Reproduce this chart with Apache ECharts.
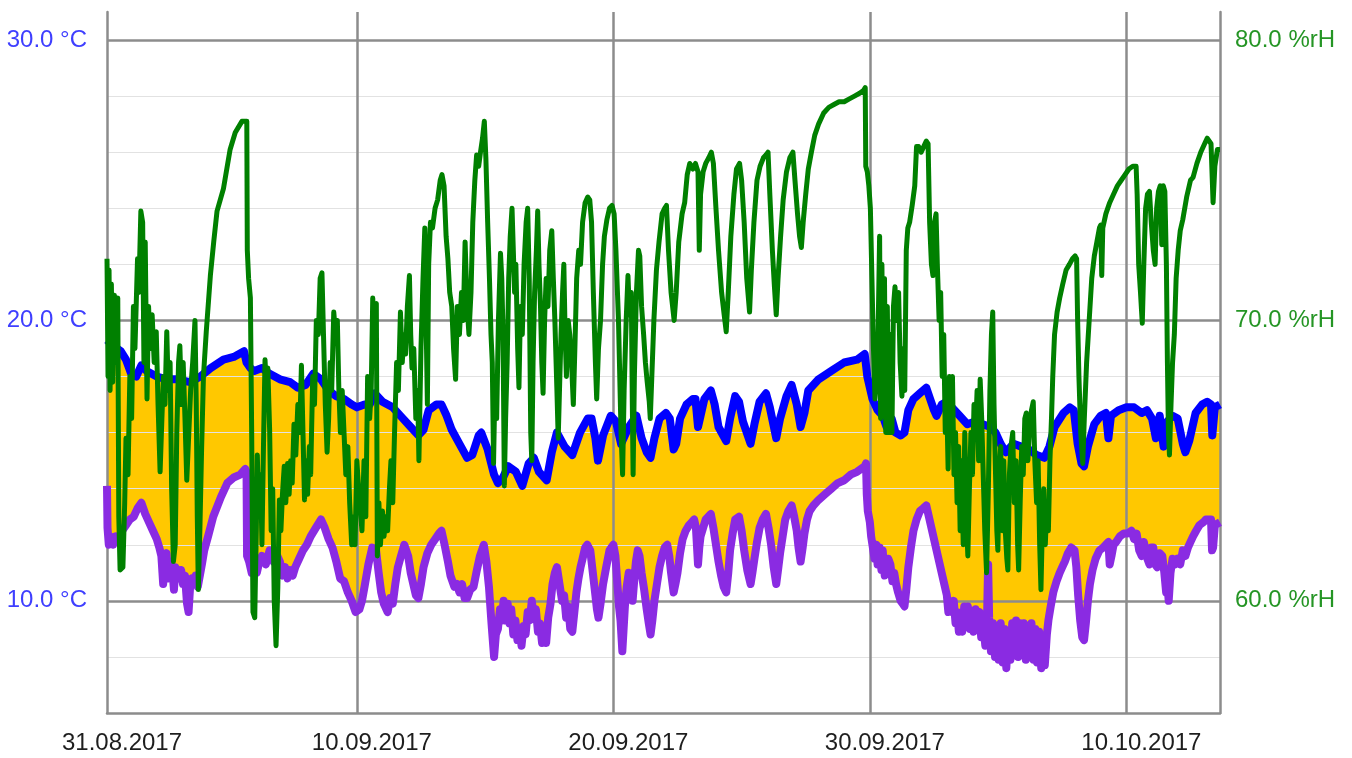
<!DOCTYPE html>
<html>
<head>
<meta charset="utf-8">
<script src="https://cdn.jsdelivr.net/npm/echarts@6/dist/echarts.min.js"></script>
<style>
html,body{margin:0;padding:0;background:#ffffff;}
#chart{width:1352px;height:758px;}
</style>
</head>
<body>
<div id="chart"></div>
<script>
// x values are days counted from 31.08.2017 00:00
const startDate = [2017, 7, 31];
const xRange = [0.26, 43.65];
const tempRange = [6, 31];
const humRange = [56, 81];
const tempTicks = [10, 20, 30];
const humTicks = [60, 70, 80];

// upper temperature (blue), degC
const tempMax = [
[0.26,19.3],[0.5,19.1],[0.8,18.9],[1.0,18.6],[1.2,18.1],[1.4,18.0],[1.6,18.4],[1.8,18.2],[2.2,18.0],[2.6,17.9],[3.0,17.9],[3.5,17.8],[3.9,18.0],[4.3,18.3],[4.8,18.6],[5.2,18.7],[5.6,18.9],[5.7,18.5],[5.85,18.3],[6.0,18.2],[6.3,18.3],[6.6,18.1],[7.0,17.9],[7.4,17.8],[7.7,17.6],[8.0,17.7],[8.3,18.1],[8.6,17.9],[8.9,17.5],[9.2,17.3],[9.5,17.2],[9.8,17.0],[10.0,16.9],
[10.3,17.0],[10.5,17.0],[10.7,17.4],[11.0,17.1],[11.4,16.9],[11.8,16.5],[12.1,16.2],[12.4,15.9],[12.6,16.1],[12.8,16.8],[13.1,17.0],[13.3,17.0],[13.5,16.6],[13.7,16.1],[14.0,15.6],[14.3,15.1],[14.5,15.2],[14.75,15.9],[14.85,16.0],[15.1,15.4],[15.35,14.5],[15.5,14.2],[15.7,14.4],[15.9,14.8],[16.2,14.6],[16.45,14.1],[16.7,14.9],[16.9,15.1],[17.1,14.6],[17.4,14.3],[17.6,15.3],[17.8,16.0],[18.1,15.5],[18.4,15.2],[18.7,16.0],[19.0,16.5],[19.15,16.5],[19.3,15.8],[19.4,15.0],[19.6,15.9],[19.9,16.6],[20.1,16.4],
[20.3,15.6],[20.6,16.2],[20.9,16.6],[21.1,15.8],[21.3,15.3],[21.45,15.1],[21.6,15.8],[21.8,16.5],[22.05,16.7],[22.2,16.5],[22.35,15.4],[22.45,15.6],[22.6,16.5],[22.85,17.0],[23.1,17.2],[23.2,17.2],[23.3,16.2],[23.4,16.6],[23.55,17.2],[23.8,17.5],[23.95,17.0],[24.1,16.2],[24.4,15.7],[24.55,16.5],[24.75,17.3],[24.9,17.1],[25.05,16.4],[25.35,15.6],[25.5,16.3],[25.7,17.1],[25.95,17.4],[26.1,16.9],[26.35,15.8],[26.5,16.5],[26.75,17.3],[26.95,17.7],[27.15,17.0],[27.3,16.2],[27.45,16.7],[27.6,17.5],[28.0,17.9],[28.5,18.2],[29.0,18.5],[29.5,18.6],[29.8,18.8],[29.9,18.0],
[30.1,17.2],[30.3,16.8],[30.5,16.6],[30.65,16.2],[30.85,16.5],[31.0,16.0],[31.2,15.9],[31.35,16.0],[31.5,16.8],[31.7,17.2],[31.95,17.4],[32.2,17.6],[32.35,17.2],[32.5,16.8],[32.6,16.6],[32.8,17.0],[33.0,17.1],[33.2,16.9],[33.5,16.6],[33.8,16.3],[34.1,16.4],[34.4,16.3],[34.7,16.2],[34.9,16.0],[35.1,15.6],[35.3,15.3],[35.6,15.6],[35.9,15.5],[36.2,15.4],[36.5,15.2],[36.8,15.1],[37.0,15.5],[37.2,16.2],[37.55,16.7],[37.8,16.9],[37.95,16.8],[38.1,15.6],[38.25,14.9],[38.35,14.8],[38.5,15.5],[38.75,16.3],[39.0,16.6],[39.2,16.7],[39.3,15.8],[39.4,16.6],[39.7,16.8],[40.0,16.9],[40.3,16.9],[40.6,16.7],[40.8,16.8],[41.0,16.5],[41.15,15.8],[41.3,16.6],[41.45,15.5],[41.6,16.4],[41.8,16.6],[42.0,16.5],[42.2,15.6],[42.3,15.3],[42.45,15.7],[42.7,16.7],[42.95,17.0],[43.15,17.1],[43.3,17.0],[43.35,15.9],[43.45,16.9],[43.65,17.0]
];

// lower temperature (violet), degC
const tempMin = [
[0.26,14.1],[0.28,12.6],[0.33,12.0],[0.4,12.3],[0.5,12.0],[0.6,12.3],[0.7,12.2],[0.85,12.5],[1.0,12.7],[1.15,12.9],[1.3,13.0],[1.45,13.3],[1.6,13.5],[1.75,13.1],[1.9,12.8],[2.05,12.5],[2.2,12.2],[2.3,11.9],[2.38,11.6],[2.45,10.6],[2.5,11.5],[2.58,11.7],[2.65,10.8],[2.72,11.4],[2.8,11.2],[2.87,10.4],[2.93,11.2],[3.0,11.2],[3.08,10.8],[3.15,11.1],[3.22,10.6],[3.3,10.9],[3.38,9.9],[3.44,9.6],[3.5,10.5],[3.58,10.8],[3.65,10.6],[3.72,10.9],[3.8,10.5],[3.88,10.9],[3.96,11.3],[4.05,11.8],[4.2,12.3],[4.4,13.0],[4.7,13.7],[4.95,14.2],[5.2,14.4],[5.45,14.5],[5.65,14.7],[5.7,14.6],[5.72,11.6],[5.8,11.4],[5.9,11.0],[6.0,11.3],[6.1,11.0],[6.2,11.4],[6.3,11.6],[6.45,11.3],[6.6,11.8],[6.75,11.4],[6.9,11.6],[7.0,11.4],[7.1,10.9],[7.2,11.2],[7.3,10.8],[7.4,11.1],[7.5,10.9],[7.6,11.2],[7.75,11.5],[7.9,11.8],[8.05,12.0],[8.2,12.3],[8.4,12.6],[8.6,12.9],[8.75,12.6],[8.9,12.2],[9.05,11.9],[9.2,11.4],[9.35,10.8],[9.5,10.7],[9.65,10.3],[9.8,10.0],[9.95,9.6],[10.1,9.7],
[10.2,10.0],[10.3,10.5],[10.45,11.3],[10.6,11.9],[10.75,11.8],[10.85,11.0],[10.95,10.3],[11.05,9.9],[11.2,9.6],[11.3,10.1],[11.4,9.9],[11.5,10.6],[11.6,11.2],[11.72,11.6],[11.85,12.0],[12.0,11.6],[12.1,11.0],[12.2,10.6],[12.3,10.2],[12.4,10.1],[12.5,10.6],[12.6,11.2],[12.75,11.7],[12.9,12.0],[13.05,12.2],[13.2,12.4],[13.3,12.5],[13.42,12.0],[13.55,11.4],[13.65,10.9],[13.8,10.5],[13.9,10.6],[14.0,10.3],[14.1,10.6],[14.2,10.1],[14.3,10.1],[14.42,10.4],[14.55,10.5],[14.68,11.1],[14.8,11.6],[14.95,12.0],[15.05,11.4],[15.15,10.5],[15.25,9.2],[15.3,8.6],[15.35,8.0],[15.42,8.8],[15.5,9.0],[15.58,9.7],[15.65,9.3],[15.72,10.0],[15.8,9.3],[15.88,9.9],[15.95,9.2],[16.02,9.7],[16.1,8.8],[16.18,9.3],[16.26,8.6],[16.34,9.0],[16.42,8.4],[16.5,9.1],[16.58,8.8],[16.66,9.6],[16.74,9.3],[16.82,10.0],[16.9,9.4],[16.98,9.7],[17.06,8.9],[17.14,9.2],[17.22,8.5],[17.3,8.8],[17.38,8.5],[17.46,9.4],[17.55,9.9],[17.63,10.6],[17.72,11.0],[17.8,11.2],[17.9,10.6],[18.0,10.0],[18.08,10.2],[18.16,9.4],[18.24,9.8],[18.32,9.0],[18.4,8.9],[18.48,9.6],[18.56,10.3],[18.64,10.8],[18.72,11.2],[18.8,11.5],[18.9,11.9],[18.98,12.0],[19.1,11.8],[19.2,11.0],[19.3,10.2],[19.36,9.7],[19.42,9.4],[19.5,9.9],[19.6,10.6],[19.72,11.2],[19.85,11.8],[20.0,12.0],
[20.08,11.6],[20.15,10.7],[20.22,9.8],[20.28,9.3],[20.35,8.2],[20.4,9.0],[20.45,9.8],[20.52,10.5],[20.6,11.0],[20.68,10.6],[20.75,10.0],[20.82,10.8],[20.88,11.4],[20.95,11.8],[21.02,11.6],[21.1,11.0],[21.2,10.4],[21.3,9.7],[21.38,9.2],[21.45,8.8],[21.52,9.3],[21.6,10.0],[21.7,10.6],[21.8,11.2],[21.9,11.6],[22.0,11.9],[22.1,12.0],[22.18,11.6],[22.25,11.0],[22.35,10.3],[22.42,10.6],[22.5,11.0],[22.6,11.7],[22.7,12.2],[22.82,12.5],[22.95,12.7],[23.05,12.8],[23.15,12.9],[23.22,12.6],[23.3,11.3],[23.35,11.9],[23.4,12.3],[23.5,12.6],[23.6,12.9],[23.7,13.0],[23.8,13.1],[23.9,12.6],[24.0,12.0],[24.1,11.4],[24.2,10.9],[24.3,10.5],[24.4,10.3],[24.48,11.0],[24.55,11.8],[24.65,12.4],[24.75,12.9],[24.9,13.0],[25.0,12.5],[25.1,11.8],[25.22,11.1],[25.35,10.6],[25.42,11.0],[25.5,11.5],[25.6,12.1],[25.7,12.6],[25.82,12.9],[25.95,13.1],[26.05,12.6],[26.15,12.0],[26.25,11.2],[26.35,10.6],[26.42,11.1],[26.5,11.7],[26.6,12.3],[26.7,12.9],[26.82,13.2],[26.95,13.4],[27.05,13.0],[27.15,12.5],[27.22,11.9],[27.3,11.4],[27.38,11.9],[27.45,12.4],[27.55,12.9],[27.65,13.2],[27.8,13.4],[28.0,13.6],[28.25,13.8],[28.5,14.0],[28.75,14.2],[29.0,14.3],[29.25,14.5],[29.5,14.6],[29.65,14.7],[29.8,14.8],[29.85,14.9],[29.88,13.8],[29.92,13.2],
[30.0,12.8],[30.05,12.3],[30.1,12.0],[30.18,11.5],[30.25,12.0],[30.3,11.3],[30.38,11.9],[30.45,11.1],[30.5,11.8],[30.58,10.9],[30.65,11.0],[30.72,11.5],[30.8,11.3],[30.88,10.7],[30.95,11.0],[31.02,10.6],[31.1,10.3],[31.2,10.0],[31.28,9.9],[31.35,9.8],[31.42,10.4],[31.5,11.2],[31.6,11.9],[31.7,12.5],[31.82,12.9],[31.95,13.2],[32.08,13.3],[32.2,13.4],[32.3,13.0],[32.4,12.6],[32.5,12.2],[32.6,11.8],[32.7,11.4],[32.8,11.0],[32.9,10.6],[33.0,10.2],[33.06,9.6],[33.12,10.0],[33.2,9.6],[33.27,10.0],[33.34,9.2],[33.4,9.6],[33.47,8.9],[33.54,9.4],[33.6,8.9],[33.68,9.8],[33.75,9.2],[33.82,9.8],[33.9,9.0],[33.97,9.6],[34.04,8.9],[34.12,9.7],[34.2,9.1],[34.27,9.6],[34.34,8.7],[34.42,9.2],[34.5,8.4],[34.56,9.0],[34.61,11.3],[34.65,9.4],[34.72,8.2],[34.8,9.2],[34.88,8.0],[34.95,9.1],[35.02,7.9],[35.1,9.2],[35.18,7.8],[35.25,9.0],[35.32,7.6],[35.4,8.9],[35.48,7.9],[35.55,9.2],[35.62,8.1],[35.7,9.3],[35.78,8.0],[35.85,9.2],[35.92,8.1],[36.0,9.2],[36.08,7.9],[36.15,9.1],[36.22,8.0],[36.3,9.2],[36.38,7.9],[36.45,9.0],[36.52,7.8],[36.6,8.9],[36.68,7.6],[36.75,8.6],[36.82,7.7],[36.9,8.8],[36.96,9.3],[37.05,9.8],[37.15,10.3],[37.28,10.7],[37.4,11.0],[37.5,11.2],[37.6,11.4],[37.72,11.7],[37.85,11.9],[37.98,11.8],[38.05,11.2],[38.12,10.2],[38.2,9.3],[38.28,8.7],[38.35,8.6],[38.42,9.2],[38.5,10.0],[38.58,10.6],[38.68,11.1],[38.8,11.5],[38.95,11.8],[39.1,11.9],[39.2,12.0],[39.3,12.1],[39.35,11.3],[39.42,11.6],[39.5,12.0],[39.6,12.1],[39.75,12.3],[39.9,12.4],[40.05,12.4],[40.2,12.5],[40.3,12.2],[40.4,12.4],[40.5,11.8],[40.6,11.6],[40.68,12.1],[40.75,12.1],[40.82,11.5],[40.9,11.3],[40.97,11.9],[41.05,11.9],[41.12,11.3],[41.2,11.2],[41.3,11.7],[41.4,11.6],[41.48,11.0],[41.55,10.3],[41.6,10.6],[41.65,10.0],[41.72,11.0],[41.8,11.5],[41.9,11.3],[42.0,11.5],[42.1,11.3],[42.2,11.8],[42.3,11.6],[42.4,11.9],[42.5,12.1],[42.6,12.3],[42.72,12.5],[42.85,12.7],[43.0,12.8],[43.1,12.9],[43.3,12.9],[43.34,11.8],[43.38,11.9],[43.45,12.7],[43.65,12.8]
];

// relative humidity (green), %rH
const humidity = [
[0.26,72.2],[0.3,68.0],[0.34,71.8],[0.38,67.5],[0.43,71.3],[0.48,67.8],[0.55,70.9],[0.62,68.5],[0.68,70.8],[0.72,63.0],[0.77,61.1],[0.88,61.2],[0.95,63.5],[1.0,65.8],[1.08,64.5],[1.15,68.0],[1.22,66.5],[1.29,70.5],[1.35,69.0],[1.45,72.2],[1.5,71.0],[1.58,73.9],[1.65,73.5],[1.7,68.5],[1.75,72.8],[1.82,67.2],[1.88,70.5],[1.95,69.0],[2.02,70.2],[2.1,68.5],[2.18,69.6],[2.25,67.0],[2.33,64.6],[2.4,66.5],[2.46,68.0],[2.52,67.0],[2.59,69.6],[2.65,67.5],[2.72,68.5],[2.78,64.0],[2.85,61.4],[2.92,62.0],[2.98,66.0],[3.05,68.5],[3.1,69.1],[3.17,67.0],[3.23,68.5],[3.3,66.5],[3.37,64.3],[3.45,66.0],[3.52,67.5],[3.6,68.5],[3.69,70.0],[3.74,67.0],[3.78,63.0],[3.82,60.4],[3.88,62.5],[3.95,65.5],[4.02,68.0],[4.13,69.6],[4.29,71.6],[4.42,72.8],[4.55,73.9],[4.8,74.7],[5.06,76.1],[5.26,76.7],[5.52,77.1],[5.71,77.1],
[5.73,72.5],[5.78,71.5],[5.85,70.8],[5.9,66.0],[5.95,59.6],[6.02,59.4],[6.08,62.5],[6.12,65.2],[6.18,63.0],[6.25,64.5],[6.3,62.0],[6.36,65.5],[6.42,68.6],[6.48,67.5],[6.53,68.3],[6.6,66.1],[6.66,62.5],[6.72,64.0],[6.78,60.0],[6.85,58.4],[6.92,60.5],[6.98,63.6],[7.04,62.5],[7.1,63.8],[7.17,64.8],[7.23,63.5],[7.3,64.9],[7.36,63.8],[7.42,65.0],[7.48,64.2],[7.55,66.3],[7.62,65.2],[7.7,67.0],[7.77,66.0],[7.84,68.4],[7.9,66.0],[7.96,63.6],[8.02,65.0],[8.08,63.8],[8.15,65.5],[8.2,64.5],[8.28,68.0],[8.35,67.0],[8.42,70.0],[8.5,69.5],[8.57,71.5],[8.64,71.7],[8.7,69.5],[8.77,67.0],[8.84,65.3],[8.9,66.5],[8.96,68.5],[9.02,67.5],[9.1,70.3],[9.17,69.5],[9.24,70.0],[9.3,67.5],[9.36,66.0],[9.43,67.5],[9.5,66.0],[9.57,64.5],[9.65,65.5],[9.72,63.5],[9.8,62.0],[9.87,63.0],[9.93,62.0],[10.0,65.0],[10.07,64.0],
[10.12,64.0],[10.2,62.5],[10.28,65.0],[10.35,63.0],[10.42,68.0],[10.5,66.5],[10.56,67.5],[10.62,70.8],[10.7,69.0],[10.76,70.6],[10.8,61.6],[10.86,63.5],[10.92,62.0],[11.0,63.2],[11.06,62.3],[11.13,63.0],[11.2,62.5],[11.27,64.0],[11.33,65.0],[11.4,63.5],[11.47,66.0],[11.55,68.5],[11.62,67.5],[11.7,70.3],[11.77,68.5],[11.84,69.5],[11.9,68.8],[11.97,70.5],[12.05,71.6],[12.1,69.5],[12.15,68.3],[12.22,69.0],[12.3,66.5],[12.37,67.5],[12.42,65.0],[12.5,69.0],[12.58,71.5],[12.65,73.3],[12.7,70.0],[12.75,67.0],[12.8,72.0],[12.87,73.5],[12.95,73.3],[13.05,74.0],[13.15,74.3],[13.25,75.0],[13.32,75.2],[13.4,74.8],[13.48,73.0],[13.55,72.2],[13.62,71.0],[13.7,70.5],[13.77,69.0],[13.85,67.9],[13.92,70.5],[14.0,69.5],[14.08,71.0],[14.15,70.0],[14.22,72.8],[14.3,70.5],[14.37,69.5],[14.45,71.0],[14.52,73.5],[14.6,75.0],[14.67,75.9],[14.75,75.5],[14.82,76.0],[14.9,76.5],[14.97,77.1],[15.03,75.8],[15.1,73.5],[15.17,71.5],[15.23,69.5],[15.28,68.5],[15.33,64.9],[15.38,67.5],[15.45,66.5],[15.52,70.0],[15.6,72.4],[15.65,71.5],[15.7,69.5],[15.75,64.1],[15.8,66.5],[15.86,68.5],[15.92,71.5],[15.98,73.0],[16.05,74.0],[16.1,72.5],[16.15,71.0],[16.2,72.0],[16.27,69.0],[16.32,67.6],[16.38,70.5],[16.45,69.5],[16.52,72.0],[16.6,73.5],[16.66,74.0],[16.72,71.5],[16.78,66.0],[16.82,65.0],[16.87,68.5],[16.93,71.0],[17.0,72.5],[17.05,73.9],[17.1,72.0],[17.16,70.5],[17.21,68.5],[17.26,67.4],[17.32,70.0],[17.38,71.5],[17.45,70.5],[17.52,72.5],[17.6,73.2],[17.66,71.5],[17.72,70.0],[17.8,67.5],[17.85,65.8],[17.9,67.5],[17.96,69.5],[18.02,71.0],[18.07,72.0],[18.12,69.5],[18.17,68.0],[18.24,70.0],[18.3,69.5],[18.37,68.5],[18.44,67.0],[18.5,69.0],[18.57,71.5],[18.65,72.5],[18.72,72.0],[18.8,73.5],[18.9,74.2],[19.0,74.4],[19.08,74.3],[19.15,73.5],[19.22,71.0],[19.3,68.5],[19.35,67.2],[19.42,69.0],[19.5,70.0],[19.58,72.0],[19.65,73.0],[19.75,73.6],[19.85,74.0],[19.95,74.1],[20.03,73.8],[20.1,72.5],[20.2,70.0],[20.3,66.0],
[20.36,64.5],[20.42,67.5],[20.5,70.0],[20.57,71.6],[20.63,70.2],[20.7,71.0],[20.74,67.0],[20.77,64.5],[20.82,68.0],[20.9,71.0],[20.98,72.5],[21.03,72.3],[21.1,70.5],[21.18,69.5],[21.25,68.5],[21.32,67.8],[21.4,67.1],[21.44,66.5],[21.5,68.0],[21.58,70.0],[21.68,71.8],[21.78,72.8],[21.9,73.8],[22.0,74.0],[22.07,74.1],[22.15,72.5],[22.25,71.0],[22.37,70.0],[22.45,71.0],[22.55,72.8],[22.68,73.8],[22.78,74.2],[22.88,75.2],[22.98,75.6],[23.1,75.4],[23.2,75.6],[23.3,75.3],[23.35,72.5],[23.4,74.5],[23.5,75.3],[23.6,75.6],[23.72,75.8],[23.82,76.0],[23.9,75.6],[24.0,74.0],[24.1,72.5],[24.22,71.0],[24.32,70.2],[24.4,69.6],[24.48,71.0],[24.58,73.0],[24.7,74.5],[24.8,75.4],[24.92,75.6],[25.0,75.0],[25.1,73.5],[25.2,71.5],[25.31,70.3],[25.38,71.8],[25.48,73.5],[25.6,75.0],[25.72,75.5],[25.85,75.8],[25.95,75.9],[26.03,76.0],[26.1,74.5],[26.2,72.5],[26.28,71.2],[26.35,70.2],[26.42,71.5],[26.52,73.0],[26.62,74.3],[26.75,75.3],[26.88,75.8],[27.0,76.0],[27.08,75.0],[27.18,73.8],[27.26,73.0],[27.33,72.6],[27.4,73.5],[27.5,74.5],[27.6,75.4],[27.72,76.0],[27.85,76.6],[28.0,77.0],[28.2,77.4],[28.4,77.6],[28.6,77.7],[28.8,77.8],[29.0,77.8],[29.2,77.9],[29.4,78.0],[29.6,78.1],[29.75,78.2],[29.82,78.3],[29.84,75.5],[29.9,75.3],[29.96,74.8],[30.02,74.0],[30.08,71.5],[30.14,69.0],[30.2,67.2],[30.26,67.8],[30.32,69.5],
[30.38,73.0],[30.42,66.5],[30.47,72.0],[30.52,67.0],[30.57,71.5],[30.62,66.0],[30.68,70.5],[30.74,66.0],[30.8,69.5],[30.86,66.0],[30.92,70.5],[30.98,71.2],[31.05,70.0],[31.12,71.0],[31.18,68.5],[31.25,67.3],[31.3,69.0],[31.36,67.5],[31.42,72.5],[31.48,73.3],[31.55,73.5],[31.65,74.1],[31.75,74.8],[31.82,76.2],[31.9,76.2],[32.0,76.0],[32.1,76.2],[32.2,76.4],[32.27,76.3],[32.33,73.5],[32.4,72.0],[32.46,71.6],[32.52,73.5],[32.58,73.8],[32.63,72.0],[32.7,70.0],[32.76,71.0],[32.82,68.0],[32.88,69.5],[32.94,66.0],[33.0,67.0],[33.05,64.7],[33.1,68.0],[33.16,66.5],[33.22,68.0],[33.28,64.5],[33.34,66.0],[33.4,63.5],[33.46,65.5],[33.52,62.5],[33.58,65.0],[33.64,62.0],[33.7,66.0],[33.76,63.0],[33.82,61.6],[33.88,64.0],[33.94,66.0],[34.0,64.5],[34.06,67.0],[34.12,66.0],[34.18,67.5],[34.24,65.0],[34.3,67.9],[34.36,66.5],[34.42,64.5],[34.48,62.5],[34.55,61.0],[34.62,64.0],[34.68,67.5],[34.74,69.5],[34.79,70.3],[34.84,67.0],[34.9,64.5],[34.95,62.5],[34.99,61.8],[35.04,64.5],[35.1,65.5],[35.16,62.5],[35.22,65.0],[35.28,62.5],[35.34,61.5],[35.38,61.1],[35.44,64.5],[35.5,65.5],[35.57,66.0],[35.63,63.5],[35.7,65.0],[35.76,62.0],[35.8,61.1],[35.86,63.5],[35.92,65.5],[35.98,64.5],[36.04,66.5],[36.1,66.7],[36.16,65.0],[36.22,66.0],[36.3,66.8],[36.37,67.1],[36.43,65.0],[36.5,63.5],[36.56,65.0],[36.62,62.0],[36.67,60.4],[36.72,62.5],[36.78,64.0],[36.84,62.0],[36.9,63.5],[36.96,62.5],[37.02,65.0],[37.08,66.5],[37.13,68.0],[37.2,69.5],[37.3,70.3],[37.4,70.8],[37.52,71.3],[37.65,71.8],[37.78,72.0],[37.9,72.2],[38.0,72.3],[38.06,72.2],[38.1,70.0],[38.15,68.0],[38.22,66.0],[38.3,64.9],[38.36,66.5],[38.45,68.5],[38.55,70.0],[38.65,71.5],[38.75,72.3],[38.85,72.8],[38.95,73.3],[39.0,73.4],[39.04,71.6],[39.08,73.3],[39.2,73.8],[39.35,74.2],[39.5,74.5],[39.65,74.8],[39.8,75.0],[39.95,75.2],[40.1,75.4],[40.25,75.5],[40.38,75.5],[40.42,74.5],[40.48,72.0],[40.55,71.0],[40.62,69.9],[40.68,72.0],[40.75,74.0],[40.82,74.5],[40.9,74.6],[40.97,73.5],[41.05,72.5],[41.12,72.0],[41.18,74.0],[41.25,74.6],[41.32,74.8],[41.38,72.7],[41.44,74.8],[41.5,74.6],[41.56,72.0],[41.6,68.5],[41.64,66.0],[41.68,65.2],[41.74,67.0],[41.8,68.5],[41.87,69.5],[41.94,71.5],[42.02,72.5],[42.1,73.2],[42.2,73.6],[42.35,74.4],[42.5,75.0],[42.6,75.1],[42.75,75.6],[42.9,76.0],[43.05,76.3],[43.15,76.5],[43.3,76.3],[43.38,74.2],[43.45,75.5],[43.55,76.1],[43.65,76.1]
];

const GRID = '#8c8c8c';
const CLEAR = 'rgba(0,0,0,0)';
const FONT = 'Liberation Sans, Arial, sans-serif';

function pad2(n) { return (n < 10 ? '0' : '') + n; }
function dateLabel(v) {
  if (v > xRange[1] - 1) return '';
  const day = Math.floor(v + 1e-6);
  const d = new Date(Date.UTC(startDate[0], startDate[1], startDate[2] + day));
  return pad2(d.getUTCDate()) + '.' + pad2(d.getUTCMonth() + 1) + '.' + d.getUTCFullYear();
}

const chart = echarts.init(document.getElementById('chart'), null, { renderer: 'canvas' });
const option = {
  animation: false,
  backgroundColor: '#ffffff',
  grid: { left: 107, right: 132, top: 12, bottom: 45, containLabel: false },
  xAxis: {
    type: 'value',
    min: xRange[0],
    max: xRange[1],
    splitNumber: 5,
    axisLine: { show: true, lineStyle: { color: GRID, width: 2.5 } },
    axisTick: { show: false },
    axisLabel: {
      formatter: dateLabel,
      color: '#1e1e1e',
      fontFamily: FONT,
      fontSize: 24,
      margin: 18,
      padding: [0, 0, 0, 30]
    },
    splitLine: { show: true, lineStyle: { color: [CLEAR, GRID, GRID, GRID, GRID, CLEAR], width: 2.5 } }
  },
  yAxis: [
    {
      type: 'value',
      position: 'left',
      min: tempRange[0],
      max: tempRange[1],
      splitNumber: 3,
      axisLine: { show: true, lineStyle: { color: GRID, width: 2.5 } },
      axisTick: { show: false },
      axisLabel: {
        formatter: function (v) { return tempTicks.indexOf(v) >= 0 ? v.toFixed(1) + ' °C' : ''; },
        color: '#3f3fff',
        fontFamily: FONT,
        fontSize: 24,
        margin: 20
      },
      splitLine: { show: true, lineStyle: { color: [CLEAR, GRID, GRID, GRID, CLEAR], width: 2.5 } },
      minorTick: { show: false, splitNumber: 5 },
      minorSplitLine: { show: true, lineStyle: { color: '#e2e2e2', width: 1.2 } }
    },
    {
      type: 'value',
      position: 'right',
      min: humRange[0],
      max: humRange[1],
      splitNumber: 3,
      axisLine: { show: true, lineStyle: { color: GRID, width: 2.5 } },
      axisTick: { show: false },
      axisLabel: {
        formatter: function (v) { return humTicks.indexOf(v) >= 0 ? v.toFixed(1) + ' %rH' : ''; },
        color: '#259525',
        fontFamily: FONT,
        fontSize: 24,
        margin: 15
      },
      splitLine: { show: false }
    }
  ],
  series: [
    {
      name: 'band', type: 'line', data: tempMax, yAxisIndex: 0, z: -1, silent: true,
      symbol: 'none', lineStyle: { width: 0, opacity: 0 },
      areaStyle: { color: '#ffc800', opacity: 1, origin: 'start' }
    },
    {
      name: 'below', type: 'line', data: tempMin, yAxisIndex: 0, z: -1, silent: true,
      symbol: 'none', lineStyle: { width: 0, opacity: 0 },
      areaStyle: { color: '#ffffff', opacity: 1, origin: 'start' }
    },
    {
      name: 'Temp max', type: 'line', data: tempMax, yAxisIndex: 0, z: 3,
      symbol: 'none', lineStyle: { color: '#0000ff', width: 8, join: 'round' }
    },
    {
      name: 'Temp min', type: 'line', data: tempMin, yAxisIndex: 0, z: 3,
      symbol: 'none', lineStyle: { color: '#8a2be2', width: 8, join: 'round' }
    },
    {
      name: 'Humidity', type: 'line', data: humidity, yAxisIndex: 1, z: 4,
      symbol: 'none', lineStyle: { color: '#008000', width: 5, join: 'round' }
    }
  ]
};
chart.setOption(option);
</script>
</body>
</html>
